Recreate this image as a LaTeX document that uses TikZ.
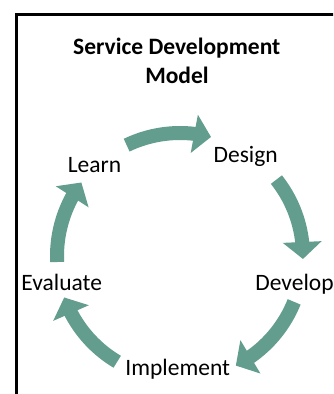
\documentclass[tikz,border=0pt]{standalone}
\usepackage{fontspec}
\setmainfont{Carlito}
\usetikzlibrary{arrows.meta,bending}
\definecolor{cyclegreen}{RGB}{98,157,141}
\tikzset{
  x=1pt, y=1pt,
  frame/.style={draw=black, line width=2.8pt},
  label/.style={anchor=base, inner sep=0pt, font=\fontsize{23.5}{28.8}\selectfont},
  titlelbl/.style={label, font=\fontsize{23.5}{28.8}\selectfont\bfseries},
  cyc/.style={draw=cyclegreen, line width=14pt, -{Triangle[width=38pt,length=17pt,flex]}}
}
\begin{document}
\begin{tikzpicture}
\clip (0,0) rectangle (333,394);
\useasboundingbox (0,0) rectangle (333,394);
\draw[frame] (16.5,-20) -- (16.5,379.3) -- (360,379.3);
\node[titlelbl] (title) at (176.8,339.5) {Service Development};
\node[titlelbl] (title2) at (177,310.7) {Model};
\node[label] (learn) at (94.5,221.7) {Learn};
\node[label] (design) at (245.7,231.7) {Design};
\node[label] (develop) at (294.5,103) {Develop};
\node[label] (evaluate) at (61.7,103) {Evaluate};
\node[label] (implement) at (177.7,19) {Implement};
\coordinate (c) at (180,138);
\def\R{123}
\draw[cyc] ([shift={(115.7:\R)}]c) arc[start angle=115.7, end angle=75.4, radius=\R];
\draw[cyc] ([shift={(38.4:\R)}]c) arc[start angle=38.4, end angle=-1.4, radius=\R];
\draw[cyc] ([shift={(-21.9:\R)}]c) arc[start angle=-21.9, end angle=-63, radius=\R];
\draw[cyc] ([shift={(239.3:\R)}]c) arc[start angle=239.3, end angle=199.7, radius=\R];
\draw[cyc] ([shift={(182.8:\R)}]c) arc[start angle=182.8, end angle=143.3, radius=\R];
\end{tikzpicture}
\end{document}
